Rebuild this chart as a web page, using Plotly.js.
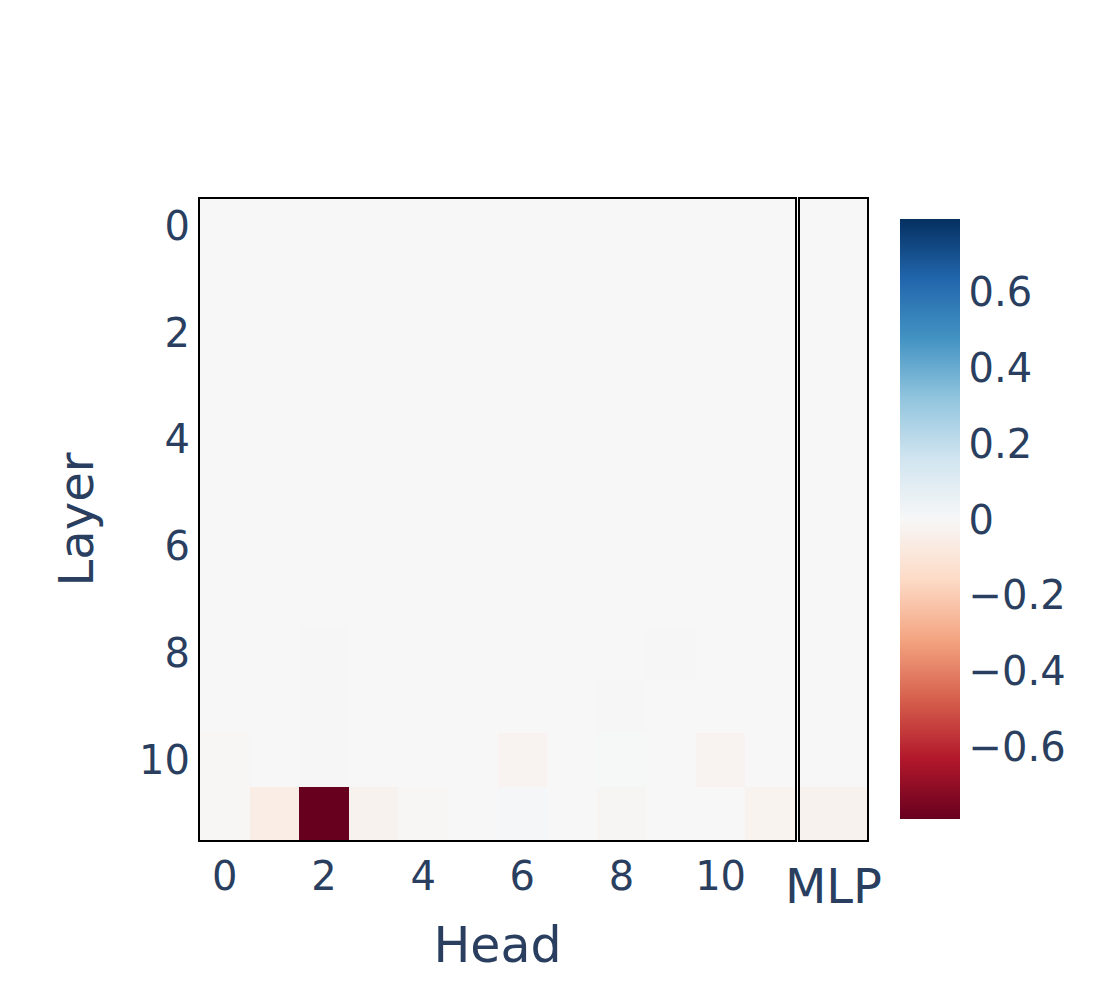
<!DOCTYPE html>
<html>
<head>
<meta charset="utf-8">
<script src="https://cdn.plot.ly/plotly-3.0.1.min.js"></script>
<style>body{margin:0;padding:0;background:#fff;}#chart{width:1100px;height:1000px;}</style>
</head>
<body>
<div id="chart"></div>
<script>
// Heads 0..11, layers 0..11
var heads = [0,1,2,3,4,5,6,7,8,9,10,11];
var layers = [0,1,2,3,4,5,6,7,8,9,10,11];
// Attention head values (rows = layers 0..11, columns = heads 0..11)
var headValues = [
  [0,0,0,0,0,0,0,0,0,0,0,0],
  [0,0,0,0,0,0,0,0,0,0,0,0],
  [0,0,0,0,0,0,0,0,0,0,0,0],
  [0,0,0,0,0,0,0,0,0,0,0,0],
  [0,0,0,0,0,0,0,0,0,0,0,0],
  [0,0,0,0,0,0,0,0,0,0,0,0],
  [0,0,0,0,0,0,0,0,0,0,0,0],
  [0,0,0,0,0,0,0,0,0,0,0,0],
  [0,0,-0.004,0,0,0,0,0,0,0.006,0,0],
  [0,0,-0.004,0,0,0,0,0,0.005,0,0,0],
  [-0.008,0,-0.004,0,0,0,-0.022,0,0.003,0,-0.022,0],
  [-0.008,-0.055,-0.79,-0.03,-0.006,0,0.008,0,-0.01,0,0.001,-0.025]
];
// MLP values per layer
var mlpValues = [[0],[0],[0],[0],[0],[0],[0],[0],[0],[0],[0],[-0.03]];
var mlpLabel = ['MLP'];
var zMax = 0.79;

var rdbu = [
  [0.0,'rgb(103,0,31)'],[0.1,'rgb(178,24,43)'],[0.2,'rgb(214,96,77)'],
  [0.3,'rgb(244,165,130)'],[0.4,'rgb(253,219,199)'],[0.5,'rgb(247,247,247)'],
  [0.6,'rgb(209,229,240)'],[0.7,'rgb(146,197,222)'],[0.8,'rgb(67,147,195)'],
  [0.9,'rgb(33,102,172)'],[1.0,'rgb(5,48,97)']
];

var fam = '"DejaVu Sans", Verdana, sans-serif';
function f(size){return {family:fam,color:'#2a3f5f',size:size};}

var traces = [
  {
    type:'heatmap', x:heads, y:layers, z:headValues,
    xaxis:'x', yaxis:'y',
    colorscale:rdbu, zmin:-zMax, zmax:zMax,
    colorbar:{
      thickness:60, len:600, lenmode:'pixels', y:0.5, yanchor:'middle',
      x:1.0495, xanchor:'left', xpad:0, ypad:0, outlinewidth:0,
      tickfont:f(40), ticks:''
    }
  },
  {
    type:'heatmap', x:mlpLabel, y:layers, z:mlpValues,
    xaxis:'x2', yaxis:'y2',
    colorscale:rdbu, zmin:-zMax, zmax:zMax, showscale:false
  }
];

var layout = {
  width:1100, height:1000,
  margin:{l:200, r:233, t:199, b:160},
  paper_bgcolor:'white', plot_bgcolor:'white',
  font:f(40),
  xaxis:{
    domain:[0,0.892], range:[-0.5,11.5], tickvals:[0,2,4,6,8,10],
    showline:true, mirror:true, linecolor:'black', linewidth:2,
    showgrid:false, zeroline:false, ticks:'', tickfont:f(40),
    title:{text:'Head', font:f(49), standoff:30}
  },
  yaxis:{
    domain:[0,1], range:[11.5,-0.5], tickvals:[0,2,4,6,8,10],
    showline:true, mirror:true, linecolor:'black', linewidth:2,
    showgrid:false, zeroline:false, ticks:'', tickfont:f(40),
    title:{text:'Layer', font:f(48)}
  },
  xaxis2:{
    domain:[0.8996,1], anchor:'y2', showticklabels:false,
    showline:true, mirror:true, linecolor:'black', linewidth:2,
    showgrid:false, zeroline:false, ticks:'',
    title:{text:'MLP', font:f(48), standoff:28}
  },
  yaxis2:{
    domain:[0,1], anchor:'x2', range:[11.5,-0.5], showticklabels:false,
    showline:true, mirror:true, linecolor:'black', linewidth:2,
    showgrid:false, zeroline:false, ticks:''
  }
};

Plotly.newPlot('chart', traces, layout, {displayModeBar:false});
</script>
</body>
</html>
